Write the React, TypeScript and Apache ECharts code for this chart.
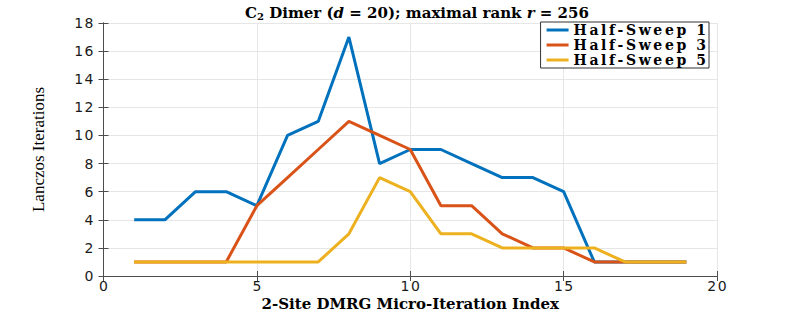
import React, { useEffect, useRef } from "react";
import * as echarts from "echarts";

const xIndex = [1, 2, 3, 4, 5, 6, 7, 8, 9, 10, 11, 12, 13, 14, 15, 16, 17, 18, 19];
const halfSweep1 = [4, 4, 6, 6, 5, 10, 11, 17, 8, 9, 9, 8, 7, 7, 6, 1, 1, 1, 1];
const halfSweep3 = [1, 1, 1, 1, 5, 7, 9, 11, 10, 9, 5, 5, 3, 2, 2, 1, 1, 1, 1];
const halfSweep5 = [1, 1, 1, 1, 1, 1, 1, 3, 7, 6, 3, 3, 2, 2, 2, 2, 1, 1, 1];
const seriesNames = ["Half-Sweep 1", "Half-Sweep 3", "Half-Sweep 5"];
const seriesColors = ["#0072BD", "#D95319", "#EDB120"];

const serif = "'DejaVu Serif', 'Liberation Serif', serif";
const tickFont = "'DejaVu Sans', 'Liberation Sans', sans-serif";

// spread characters apart (wide, MATLAB-like rendering)
const spread = (s: string) => {
  const chars = s.split("");
  return chars
    .map((ch, i) => `{${i === chars.length - 1 ? "e" : "c"}|${ch}}`)
    .join("");
};

export default function App() {
  const ref = useRef<HTMLDivElement>(null);
  useEffect(() => {
    if (!ref.current) return;
    const chart = echarts.init(ref.current, null, { renderer: "svg" });
    const all = [halfSweep1, halfSweep3, halfSweep5];
    const axisColor = "#4d4d4d";
    const gridColor = "#e6e6e6";
    const tickRich = {
      c: { fontFamily: tickFont, fontSize: 14, color: "#1a1a1a", padding: [0, 1.5, 0, 0] },
      e: { fontFamily: tickFont, fontSize: 14, color: "#1a1a1a" },
    };
    const legendRich = {
      c: { fontFamily: serif, fontSize: 14, fontWeight: "bold", color: "#000", padding: [0, 2.6, 0, 0] },
      e: { fontFamily: serif, fontSize: 14, fontWeight: "bold", color: "#000" },
    };
    chart.setOption({
      animation: false,
      backgroundColor: "#ffffff",
      title: {
        text: "{n|C}{s|2}{n| Dimer (}{i|d}{n| = 20); maximal rank }{i|r}{n| = 256}",
        left: 412,
        textAlign: "center",
        top: 0,
        textStyle: {
          rich: {
            n: { fontFamily: serif, fontSize: 15, fontWeight: "bold", color: "#000" },
            s: { fontFamily: serif, fontSize: 10, fontWeight: "bold", color: "#000", verticalAlign: "bottom", padding: [6, 0, 0, 0] },
            i: { fontFamily: serif, fontSize: 15, fontStyle: "italic", fontWeight: "bold", color: "#000" },
          },
        },
      },
      legend: {
        data: seriesNames,
        orient: "vertical",
        right: 84,
        top: 22,
        itemWidth: 22,
        itemHeight: 3,
        itemGap: 1,
        icon: "rect",
        padding: [1, 3, 1, 6],
        backgroundColor: "#ffffff",
        borderColor: "#333",
        borderWidth: 1,
        borderRadius: 0,
        formatter: (name: string) => spread(name),
        textStyle: { fontFamily: serif, fontSize: 14, fontWeight: "bold", color: "#000", rich: legendRich },
      },
      grid: { left: 103.5, right: 76, top: 23, bottom: 38, containLabel: false, outerBoundsMode: "none" },
      xAxis: [
        {
          type: "value",
          min: 0,
          max: 20,
          interval: 5,
          name: "2-Site DMRG Micro-Iteration Index",
          nameLocation: "middle",
          nameGap: 20,
          nameMoveOverlap: false,
          nameTextStyle: { fontFamily: serif, fontSize: 15, fontWeight: "bold", color: "#000" },
          axisLine: { show: true, lineStyle: { color: axisColor, width: 1 } },
          axisTick: { show: true, inside: true, length: 5, lineStyle: { color: axisColor } },
          axisLabel: { margin: 3, formatter: (v: number) => spread(String(v)), rich: tickRich },
          splitLine: { show: true, lineStyle: { color: gridColor, width: 1 } },
        },
        {
          type: "value",
          position: "top",
          min: 0,
          max: 20,
          interval: 5,
          axisLine: { show: true, lineStyle: { color: axisColor, width: 1 } },
          axisTick: { show: true, inside: true, length: 5, lineStyle: { color: axisColor } },
          axisLabel: { show: false },
          splitLine: { show: false },
        },
      ],
      yAxis: [
        {
          type: "value",
          min: 0,
          max: 18,
          interval: 2,
          name: "Lanczos Iterations",
          nameLocation: "middle",
          nameGap: 57,
          nameMoveOverlap: false,
          nameTextStyle: { fontFamily: "'Liberation Serif', serif", fontSize: 17, color: "#000" },
          axisLine: { show: true, lineStyle: { color: axisColor, width: 1 } },
          axisTick: { show: true, inside: true, length: 5, lineStyle: { color: axisColor } },
          axisLabel: { margin: 10, formatter: (v: number) => spread(String(v)), rich: tickRich },
          splitLine: { show: true, lineStyle: { color: gridColor, width: 1 } },
        },
        {
          type: "value",
          position: "right",
          min: 0,
          max: 18,
          interval: 2,
          axisLine: { show: true, lineStyle: { color: axisColor, width: 1 } },
          axisTick: { show: true, inside: true, length: 5, lineStyle: { color: axisColor } },
          axisLabel: { show: false },
          splitLine: { show: false },
        },
      ],
      series: all.map((vals, k) => ({
        name: seriesNames[k],
        type: "line",
        data: xIndex.map((x, i) => [x, vals[i]]),
        showSymbol: false,
        symbol: "none",
        color: seriesColors[k],
        lineStyle: { width: 3, color: seriesColors[k] },
        z: 2 + k,
      })),
    });
    return () => chart.dispose();
  }, []);
  return (
    <div
      ref={ref}
      style={{ position: "fixed", left: 0, top: 0, width: 793, height: 314 }}
    />
  );
}
